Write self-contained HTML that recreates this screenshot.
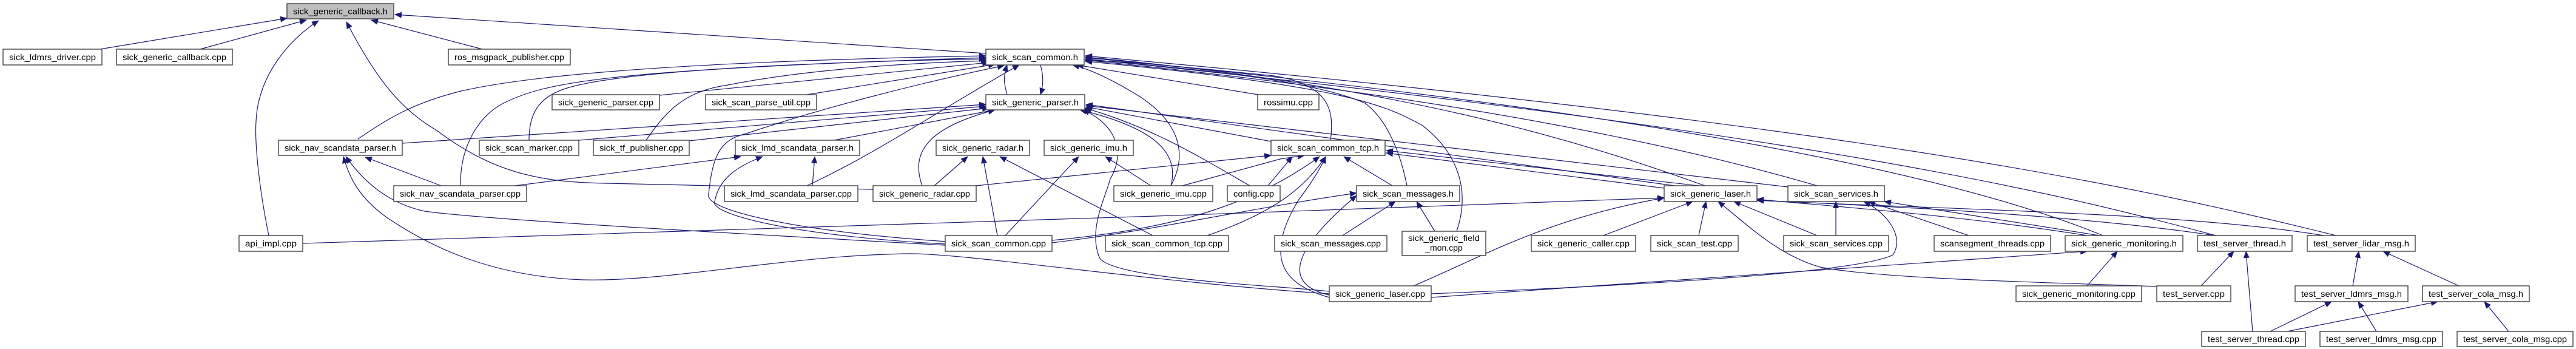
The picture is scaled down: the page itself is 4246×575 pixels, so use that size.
<!DOCTYPE html>
<html><head><meta charset="utf-8"><style>
html,body{margin:0;padding:0;background:#fff;}
svg{display:block;}
text{font-family:"Liberation Sans",sans-serif;font-size:14px;fill:#000;}
.n{fill:#fff;stroke:#404040;stroke-width:1.4;}
.e{fill:none;stroke:#191970;stroke-width:1.2;}
</style></head><body>
<svg width="4246" height="575" viewBox="0 0 4246 575" xmlns="http://www.w3.org/2000/svg">
<defs><marker id="a" markerWidth="12" markerHeight="10" refX="11" refY="5" orient="auto" markerUnits="userSpaceOnUse"><path d="M0,0 L12,5 L0,10 z" fill="#191970"/></marker></defs>
<g class="e" marker-end="url(#a)">
<path d="M165,81 L473,30"/>
<path d="M330,81 L505,33"/>
<path d="M443,388 C425,300 420,230 422,200 C425,130 470,70 525,34"/>
<path d="M1625,88 L651,24"/>
<path d="M795,81 L612,33"/>
<path d="M1439,312 L1000,302 C900,300 820,290 720,215 C660,180 620,130 571,36"/>
<path d="M590,229 C640,195 680,170 760,150 C900,118 1200,100 1625,92"/>
<path d="M759,306 C758,240 790,190 830,170 C900,135 1000,115 1625,95"/>
<path d="M872,231 C872,190 885,160 935,145 C1000,125 1200,105 1625,97"/>
<path d="M1065,231 C1100,180 1130,150 1200,140 C1300,120 1450,105 1628,100"/>
<path d="M1087,157 L1630,103"/>
<path d="M1330,156 L1640,106"/>
<path d="M1560,398 C1300,380 1160,345 1168,320 C1175,250 1190,230 1230,220 C1350,180 1500,140 1655,108"/>
<path d="M1558,402 C1300,388 1170,352 1178,332 C1185,292 1220,272 1257,258"/>
<path d="M1558,404 C1200,384 800,362 700,348 C640,335 600,300 570,258"/>
<path d="M2191,484 C1900,465 1600,418 1500,418 C1300,420 1100,465 960,461 C800,455 700,400 640,360 C590,325 575,290 566,258"/>
<path d="M727,306 L602,259"/>
<path d="M663,236 L1625,172"/>
<path d="M499,401 C1000,385 2000,355 2743,326"/>
<path d="M3850,388 C3500,300 3000,200 1789,92"/>
<path d="M3466,388 C3300,320 2900,200 1789,95"/>
<path d="M3652,388 C3400,320 3000,220 1789,97"/>
<path d="M2995,306 C2700,220 2300,150 1789,99"/>
<path d="M2947,308 L1790,174"/>
<path d="M1609,306 L2095,256"/>
<path d="M2193,231 C2200,180 2190,140 2100,125 C1950,110 1850,100 1789,100"/>
<path d="M2060,306 C1980,260 1900,210 1788,178"/>
<path d="M2095,233 L1790,176"/>
<path d="M1375,231 L1640,181"/>
<path d="M1520,306 C1500,250 1530,210 1640,181"/>
<path d="M1930,306 C1945,250 1900,210 1780,181"/>
<path d="M2191,480 C2100,470 1830,460 1812,424 C1794,380 1820,330 1830,295 C1860,243 1830,200 1785,181"/>
<path d="M1660,156 C1654,135 1654,125 1660,107"/>
<path d="M1715,107 C1720,125 1720,140 1715,156"/>
<path d="M1644,388 L1620,258"/>
<path d="M1657,388 L1778,258"/>
<path d="M1900,388 L1648,258"/>
<path d="M1897,306 L1822,258"/>
<path d="M1540,306 L1595,258"/>
<path d="M1930,306 C1960,250 1940,200 1880,160 C1840,135 1800,115 1768,107"/>
<path d="M1949,306 L2110,262 L2150,256"/>
<path d="M2090,306 L2130,258"/>
<path d="M1734,396 C1900,380 2050,350 2175,258"/>
<path d="M1990,388 C2100,350 2150,310 2185,258"/>
<path d="M1734,400 C1900,380 2050,345 2236,318"/>
<path d="M2213,388 L2300,332"/>
<path d="M2365,381 L2335,332"/>
<path d="M2401,381 C2425,310 2400,250 2345,207 C2280,170 2200,140 1789,101"/>
<path d="M2319,306 C2310,260 2290,200 2250,170 C2170,135 2000,115 1789,98"/>
<path d="M2295,306 L2215,258"/>
<path d="M2743,310 L2285,252"/>
<path d="M2800,306 L2285,248"/>
<path d="M2191,490 C2120,470 2080,430 2140,330 C2170,290 2180,270 2185,258"/>
<path d="M2191,486 C2120,470 2120,420 2236,322"/>
<path d="M2330,471 C2450,420 2550,360 2743,326"/>
<path d="M2643,388 L2790,332"/>
<path d="M2800,388 L2812,332"/>
<path d="M2995,388 L2858,332"/>
<path d="M3555,472 C3400,466 3100,460 3000,440 C2930,420 2880,370 2832,332"/>
<path d="M3026,388 L3026,332"/>
<path d="M2359,484 C2700,470 3060,450 3120,420 C3140,390 3110,350 3072,332"/>
<path d="M2359,490 C2800,460 3200,430 3440,414"/>
<path d="M3440,471 L3490,414"/>
<path d="M3245,388 L3080,332"/>
<path d="M3440,388 C3200,350 2950,335 2896,328"/>
<path d="M3460,388 L3106,332"/>
<path d="M3650,388 C3400,350 3000,335 2896,330"/>
<path d="M3830,388 C3600,350 3200,345 2896,330"/>
<path d="M2810,306 C2600,230 2300,140 1789,94"/>
<path d="M2760,306 L1790,172"/>
<path d="M3628,471 L3682,414"/>
<path d="M3713,546 L3702,414"/>
<path d="M3878,471 L3888,414"/>
<path d="M4053,471 L3928,414"/>
<path d="M3742,546 L3843,497"/>
<path d="M3770,546 L4018,497"/>
<path d="M3917,546 L3887,497"/>
<path d="M4135,546 L4095,497"/>
<path d="M1330,306 C1450,250 1550,180 1680,107"/>
<path d="M1339,306 L1343,258"/>
<path d="M849,306 L1221,258"/>
<path d="M954,231 L1625,175"/>
<path d="M1136,232 L1630,178"/>
<path d="M2080,157 L1775,107"/>
</g>
<g>
<rect x="473" y="6" width="176" height="25" fill="#bfbfbf" stroke="#404040" stroke-width="1.4"/><text x="561" y="23.5" text-anchor="middle" textLength="156" lengthAdjust="spacingAndGlyphs">sick_generic_callback.h</text>
<rect class="n" x="5" y="81" width="163" height="26"/><text x="86.5" y="99" text-anchor="middle" textLength="143" lengthAdjust="spacingAndGlyphs">sick_ldmrs_driver.cpp</text>
<rect class="n" x="192" y="81" width="191" height="26"/><text x="287.5" y="99" text-anchor="middle" textLength="171" lengthAdjust="spacingAndGlyphs">sick_generic_callback.cpp</text>
<rect class="n" x="739" y="81" width="201" height="26"/><text x="839.5" y="99" text-anchor="middle" textLength="181" lengthAdjust="spacingAndGlyphs">ros_msgpack_publisher.cpp</text>
<rect class="n" x="1625" y="81" width="162" height="26"/><text x="1706" y="99" text-anchor="middle" textLength="142" lengthAdjust="spacingAndGlyphs">sick_scan_common.h</text>
<rect class="n" x="910" y="156" width="177" height="25"/><text x="998.5" y="173.5" text-anchor="middle" textLength="157" lengthAdjust="spacingAndGlyphs">sick_generic_parser.cpp</text>
<rect class="n" x="1163" y="156" width="183" height="25"/><text x="1254.5" y="173.5" text-anchor="middle" textLength="163" lengthAdjust="spacingAndGlyphs">sick_scan_parse_util.cpp</text>
<rect class="n" x="1625" y="156" width="163" height="25"/><text x="1706.5" y="173.5" text-anchor="middle" textLength="143" lengthAdjust="spacingAndGlyphs">sick_generic_parser.h</text>
<rect class="n" x="2073" y="156" width="101" height="25"/><text x="2123.5" y="173.5" text-anchor="middle" textLength="81" lengthAdjust="spacingAndGlyphs">rossimu.cpp</text>
<rect class="n" x="459" y="231" width="204" height="25"/><text x="561" y="248.5" text-anchor="middle" textLength="184" lengthAdjust="spacingAndGlyphs">sick_nav_scandata_parser.h</text>
<rect class="n" x="790" y="231" width="164" height="25"/><text x="872" y="248.5" text-anchor="middle" textLength="144" lengthAdjust="spacingAndGlyphs">sick_scan_marker.cpp</text>
<rect class="n" x="978" y="231" width="158" height="25"/><text x="1057" y="248.5" text-anchor="middle" textLength="138" lengthAdjust="spacingAndGlyphs">sick_tf_publisher.cpp</text>
<rect class="n" x="1212" y="231" width="205" height="25"/><text x="1314.5" y="248.5" text-anchor="middle" textLength="185" lengthAdjust="spacingAndGlyphs">sick_lmd_scandata_parser.h</text>
<rect class="n" x="1543" y="231" width="154" height="25"/><text x="1620" y="248.5" text-anchor="middle" textLength="134" lengthAdjust="spacingAndGlyphs">sick_generic_radar.h</text>
<rect class="n" x="1721" y="231" width="147" height="25"/><text x="1794.5" y="248.5" text-anchor="middle" textLength="127" lengthAdjust="spacingAndGlyphs">sick_generic_imu.h</text>
<rect class="n" x="2095" y="231" width="188" height="25"/><text x="2189" y="248.5" text-anchor="middle" textLength="168" lengthAdjust="spacingAndGlyphs">sick_scan_common_tcp.h</text>
<rect class="n" x="649" y="306" width="219" height="26"/><text x="758.5" y="324" text-anchor="middle" textLength="199" lengthAdjust="spacingAndGlyphs">sick_nav_scandata_parser.cpp</text>
<rect class="n" x="1194" y="306" width="220" height="26"/><text x="1304" y="324" text-anchor="middle" textLength="200" lengthAdjust="spacingAndGlyphs">sick_lmd_scandata_parser.cpp</text>
<rect class="n" x="1439" y="306" width="170" height="26"/><text x="1524" y="324" text-anchor="middle" textLength="150" lengthAdjust="spacingAndGlyphs">sick_generic_radar.cpp</text>
<rect class="n" x="1836" y="306" width="163" height="26"/><text x="1917.5" y="324" text-anchor="middle" textLength="143" lengthAdjust="spacingAndGlyphs">sick_generic_imu.cpp</text>
<rect class="n" x="2023" y="306" width="87" height="26"/><text x="2066.5" y="324" text-anchor="middle" textLength="67" lengthAdjust="spacingAndGlyphs">config.cpp</text>
<rect class="n" x="2236" y="306" width="170" height="26"/><text x="2321" y="324" text-anchor="middle" textLength="150" lengthAdjust="spacingAndGlyphs">sick_scan_messages.h</text>
<rect class="n" x="2743" y="306" width="153" height="26"/><text x="2819.5" y="324" text-anchor="middle" textLength="133" lengthAdjust="spacingAndGlyphs">sick_generic_laser.h</text>
<rect class="n" x="2947" y="306" width="159" height="26"/><text x="3026.5" y="324" text-anchor="middle" textLength="139" lengthAdjust="spacingAndGlyphs">sick_scan_services.h</text>
<rect class="n" x="394" y="388" width="105" height="26"/><text x="446.5" y="406" text-anchor="middle" textLength="85" lengthAdjust="spacingAndGlyphs">api_impl.cpp</text>
<rect class="n" x="1558" y="388" width="176" height="26"/><text x="1646" y="406" text-anchor="middle" textLength="156" lengthAdjust="spacingAndGlyphs">sick_scan_common.cpp</text>
<rect class="n" x="1822" y="388" width="203" height="26"/><text x="1923.5" y="406" text-anchor="middle" textLength="183" lengthAdjust="spacingAndGlyphs">sick_scan_common_tcp.cpp</text>
<rect class="n" x="2101" y="388" width="185" height="26"/><text x="2193.5" y="406" text-anchor="middle" textLength="165" lengthAdjust="spacingAndGlyphs">sick_scan_messages.cpp</text>
<rect class="n" x="2311" y="381" width="138" height="40"/><text x="2380" y="397" text-anchor="middle" textLength="118" lengthAdjust="spacingAndGlyphs">sick_generic_field</text><text x="2380" y="413" text-anchor="middle">_mon.cpp</text>
<rect class="n" x="2524" y="388" width="172" height="26"/><text x="2610" y="406" text-anchor="middle" textLength="152" lengthAdjust="spacingAndGlyphs">sick_generic_caller.cpp</text>
<rect class="n" x="2721" y="388" width="144" height="26"/><text x="2793" y="406" text-anchor="middle" textLength="124" lengthAdjust="spacingAndGlyphs">sick_scan_test.cpp</text>
<rect class="n" x="2940" y="388" width="173" height="26"/><text x="3026.5" y="406" text-anchor="middle" textLength="153" lengthAdjust="spacingAndGlyphs">sick_scan_services.cpp</text>
<rect class="n" x="3188" y="388" width="192" height="26"/><text x="3284" y="406" text-anchor="middle" textLength="172" lengthAdjust="spacingAndGlyphs">scansegment_threads.cpp</text>
<rect class="n" x="3404" y="388" width="194" height="26"/><text x="3501" y="406" text-anchor="middle" textLength="174" lengthAdjust="spacingAndGlyphs">sick_generic_monitoring.h</text>
<rect class="n" x="3622" y="388" width="156" height="26"/><text x="3700" y="406" text-anchor="middle" textLength="136" lengthAdjust="spacingAndGlyphs">test_server_thread.h</text>
<rect class="n" x="3803" y="388" width="178" height="26"/><text x="3892" y="406" text-anchor="middle" textLength="158" lengthAdjust="spacingAndGlyphs">test_server_lidar_msg.h</text>
<rect class="n" x="2191" y="471" width="168" height="26"/><text x="2275" y="489" text-anchor="middle" textLength="148" lengthAdjust="spacingAndGlyphs">sick_generic_laser.cpp</text>
<rect class="n" x="3323" y="471" width="207" height="26"/><text x="3426.5" y="489" text-anchor="middle" textLength="187" lengthAdjust="spacingAndGlyphs">sick_generic_monitoring.cpp</text>
<rect class="n" x="3555" y="471" width="122" height="26"/><text x="3616" y="489" text-anchor="middle" textLength="102" lengthAdjust="spacingAndGlyphs">test_server.cpp</text>
<rect class="n" x="3783" y="471" width="186" height="26"/><text x="3876" y="489" text-anchor="middle" textLength="166" lengthAdjust="spacingAndGlyphs">test_server_ldmrs_msg.h</text>
<rect class="n" x="3993" y="471" width="176" height="26"/><text x="4081" y="489" text-anchor="middle" textLength="156" lengthAdjust="spacingAndGlyphs">test_server_cola_msg.h</text>
<rect class="n" x="3629" y="546" width="171" height="25"/><text x="3714.5" y="563.5" text-anchor="middle" textLength="151" lengthAdjust="spacingAndGlyphs">test_server_thread.cpp</text>
<rect class="n" x="3824" y="546" width="202" height="25"/><text x="3925" y="563.5" text-anchor="middle" textLength="182" lengthAdjust="spacingAndGlyphs">test_server_ldmrs_msg.cpp</text>
<rect class="n" x="4050" y="546" width="191" height="25"/><text x="4145.5" y="563.5" text-anchor="middle" textLength="171" lengthAdjust="spacingAndGlyphs">test_server_cola_msg.cpp</text>
</g>
</svg>
</body></html>
